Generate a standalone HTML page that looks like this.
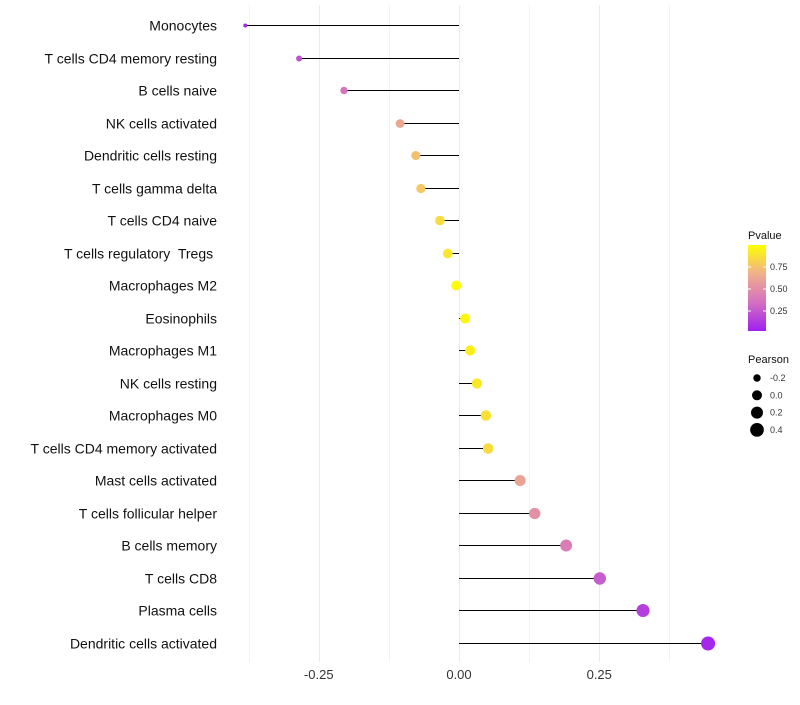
<!DOCTYPE html>
<html><head><meta charset="utf-8"><style>
body{margin:0;background:#fff;font-family:"Liberation Sans",sans-serif}
text{white-space:pre}
</style></head><body>
<svg id="c" width="800" height="700" xmlns="http://www.w3.org/2000/svg"></svg>
<script>
const categories=["Monocytes","T cells CD4 memory resting","B cells naive","NK cells activated","Dendritic cells resting","T cells gamma delta","T cells CD4 naive","T cells regulatory  Tregs ","Macrophages M2","Eosinophils","Macrophages M1","NK cells resting","Macrophages M0","T cells CD4 memory activated","Mast cells activated","T cells follicular helper","B cells memory","T cells CD8","Plasma cells","Dendritic cells activated"];
const pearson=[-0.381,-0.285,-0.205,-0.105,-0.077,-0.068,-0.034,-0.020,-0.005,0.011,0.020,0.032,0.048,0.052,0.109,0.135,0.191,0.251,0.328,0.444];
const pvalue=[0.03,0.2,0.35,0.62,0.74,0.77,0.85,0.9,0.98,0.96,0.93,0.9,0.87,0.85,0.6,0.5,0.4,0.25,0.13,0.03];
const xTicks=[-0.25,0,0.25];
const xTickLabels=["-0.25","0.00","0.25"];
const pTicks=[0.25,0.5,0.75];
const sizeTicks=[-0.2,0,0.2,0.4];
const NS="http://www.w3.org/2000/svg",svg=document.getElementById('c');
function el(t,a,p){const e=document.createElementNS(NS,t);for(const k in a)e.setAttribute(k,a[k]);(p||svg).appendChild(e);return e;}
const x=v=>459+v*561;
const y=i=>Math.round(25+i*32.5)+0.5;
const r=v=>Math.sqrt(Math.max(1,24.9+54.9*v));
function lerp(a,b,t){return a.map((c,i)=>Math.round(c+(b[i]-c)*t));}
function col(p){const s=[[160,32,240],[212,112,192],[240,176,140],[255,255,0]];const t=Math.max(0,Math.min(1,p))*3;const i=Math.min(2,Math.floor(t));const c=lerp(s[i],s[i+1],t-i);return `rgb(${c})`;}
for(const v of [-0.375,-0.125,0.125,0.375]){const g=el('line',{x1:Math.round(x(v))+0.5,x2:Math.round(x(v))+0.5,y1:5,y2:662,stroke:'#f3f3f3','stroke-width':1});}
xTicks.forEach((v,i)=>{const g=el('line',{x1:Math.round(x(v))+0.5,x2:Math.round(x(v))+0.5,y1:5,y2:662,stroke:'#ebebeb','stroke-width':1});
const t=el('text',{x:x(v),y:679,'text-anchor':'middle','font-size':13,fill:'#333'});t.textContent=xTickLabels[i];});
categories.forEach((c,i)=>{const t=el('text',{x:217,y:y(i)+5,'text-anchor':'end','font-size':14,fill:'#111'});t.textContent=c;
const l=el('line',{x1:x(0),x2:x(pearson[i]),y1:y(i),y2:y(i),stroke:'#000','stroke-width':1});
const d=el('circle',{cx:x(pearson[i]),cy:y(i),r:r(pearson[i]),fill:col(pvalue[i])});});
const lt=el('text',{x:748,y:239,'font-size':11,fill:'#111'});lt.textContent='Pvalue';
const defs=el('defs',{});const lg=el('linearGradient',{id:'g',x1:0,y1:1,x2:0,y2:0},defs);
[0,1/3,2/3,1].forEach(o=>el('stop',{offset:o,'stop-color':col(o)},lg));
const cb=el('rect',{x:748,y:245,width:18,height:86,fill:'url(#g)'});
const py=p=>333-p*88;
pTicks.forEach(p=>{el('line',{x1:748,x2:751,y1:py(p),y2:py(p),stroke:'#fff'});el('line',{x1:763,x2:766,y1:py(p),y2:py(p),stroke:'#fff'});
const t=el('text',{x:770,y:py(p)+3,'font-size':9,fill:'#333'});t.textContent=p.toFixed(2);});
const st=el('text',{x:748,y:363,'font-size':11,fill:'#111'});st.textContent='Pearson';
sizeTicks.forEach((v,i)=>{const cy=378+i*17.3;const d=el('circle',{cx:757,cy:cy,r:r(v),fill:'#000'});
const t=el('text',{x:770,y:cy+3,'font-size':9,fill:'#333'});t.textContent=v.toFixed(1);});
</script>
</body></html>
